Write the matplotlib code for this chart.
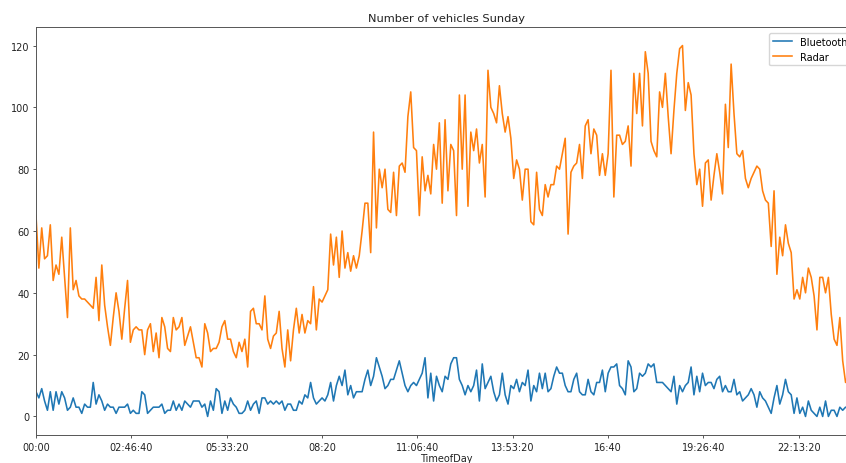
import matplotlib
matplotlib.use("Agg")
import matplotlib.pyplot as plt
from matplotlib.ticker import FuncFormatter, MultipleLocator
import numpy as np

# 5-minute bins over one Sunday
step_s = 300
radar = [65, 48, 61, 51, 52, 62, 44, 49, 46, 58, 45, 32, 61, 41, 44, 39, 38, 38, 37, 36,
         35, 45, 31, 49, 36, 29, 23, 32, 40, 34, 25, 35, 44, 24, 28, 29, 28, 28, 20, 28,
         30, 21, 27, 19, 32, 29, 22, 21,
         32, 28, 29, 32, 23, 26, 29, 24, 19, 19, 16, 30, 27, 21, 22, 22, 24, 29, 31, 25,
         25, 21, 19, 24, 21, 25, 16, 34, 35, 30, 30, 28, 39, 25, 22, 26, 27, 34, 22, 16,
         28, 18, 28, 35, 27, 33, 27,
         31, 30, 42, 28, 38, 37, 39, 41, 59, 49, 58, 45, 60, 48, 53, 47, 52, 48, 52, 60,
         69, 69, 53, 92, 61, 80, 74, 80, 67, 66, 79, 65, 81, 82, 79, 97, 105, 87, 86, 65,
         84, 73, 78, 72, 88, 80, 95,
         69, 96, 73, 88, 86, 65, 104, 80, 104, 68, 92, 86, 93, 82, 88, 71, 112, 100, 98, 95,
         107, 98, 92, 97, 90, 77, 83, 80, 70, 80, 80, 63, 62, 79, 67, 65, 75, 71, 75, 75,
         81, 80, 85, 90, 59, 79, 81,
         82, 88, 77, 94, 96, 85, 93, 91, 78, 85, 78, 85, 112, 71, 91, 91, 88, 89, 94, 81,
         111, 98, 111, 94, 118, 111, 89, 86, 84, 105, 100, 111, 97, 85, 99, 111, 119, 120, 99, 108,
         104, 85, 75, 80, 68, 82, 83, 70,
         78, 85, 79, 72, 101, 87, 114, 98, 85, 84, 86, 77, 74, 77, 79, 81, 80, 73, 70, 69,
         55, 73, 46, 58, 52, 62, 56, 53, 38, 41, 38, 45, 40, 48, 45, 39, 28, 45, 45, 40,
         45, 33, 25, 23, 32, 18, 11, 14, 12, 9, 11]
bluetooth = [8, 6, 9, 5, 2, 8, 2, 8, 4, 8, 6, 2, 3, 6, 3, 3, 1, 4, 3, 3,
             11, 4, 7, 5, 2, 4, 3, 3, 1, 3, 3, 3, 4, 1, 2, 1, 1, 8, 7, 1,
             2, 3, 3, 3, 4, 1, 2, 2, 5, 2, 4, 2, 5, 4, 3, 5, 5, 5, 3, 4,
             0, 5, 2, 9, 8, 1, 5, 2, 6, 4, 3, 1, 1, 2, 5, 2, 4, 5, 1, 6,
             6, 4, 5, 4, 5,
             4, 5, 2, 4, 4, 2, 2, 5, 4, 7, 6, 11, 6, 4, 5, 6, 5, 7, 11, 5,
             10, 13, 10, 15, 7, 10, 6, 8, 8, 8, 12, 15, 10, 13, 19, 16, 13, 9, 10, 12,
             12, 15, 18, 14, 10, 8, 10, 11, 10, 12, 14, 19, 6, 14, 5, 13, 10, 8, 13, 12,
             17, 19, 19, 12, 10, 7, 10, 8, 10, 15, 5, 17, 9, 11, 13, 8, 5, 7, 14, 7,
             4, 10, 9, 12, 8, 11, 10, 15, 5, 10, 8, 14, 9, 14, 8, 9, 13, 16,
             14, 14, 10, 8, 8, 12, 14, 8, 7, 7, 12, 8, 7, 11, 11, 15, 8, 14, 16, 16,
             17, 10, 9, 7, 18, 16, 8, 9, 14, 13, 14, 17, 16, 17, 11, 11, 11, 10, 9, 8,
             13, 4, 10, 8, 10, 11, 16, 7, 13, 8, 14, 10, 11, 11, 9, 12, 13, 8, 10, 8,
             8, 12, 7, 8, 5, 6, 7, 9, 7, 3, 8, 6, 5, 3, 1, 6, 10, 4, 7, 12,
             8, 7, 1, 6, 1, 3, 0, 5, 2, 1, 0, 3, 0, 5, 0, 2, 2, 0, 3, 2,
             3, 3, 2, 3, 3]
t = np.arange(len(radar)) * step_s   # seconds since midnight

def hms(x, pos=None):
    x = int(round(x)); h, r = divmod(x, 3600); m, s = divmod(r, 60)
    return f"{h:02d}:{m:02d}" if s == 0 else f"{h:02d}:{m:02d}:{s:02d}"

plt.rcParams.update({"font.size": 7, "axes.linewidth": 0.7, "axes.edgecolor": "#555555",
                     "xtick.color": "#555555", "ytick.color": "#555555",
                     "xtick.labelcolor": "#222222", "ytick.labelcolor": "#222222",
                     "xtick.major.size": 2.2, "ytick.major.size": 2.2,
                     "xtick.major.width": 0.7, "ytick.major.width": 0.7,
                     "xtick.major.pad": 2.5, "ytick.major.pad": 2.5})
fig = plt.figure(figsize=(8.46, 4.64), dpi=100)
# axes run a little past the right edge, as in the cropped original
ax = fig.add_axes([36 / 846, 1 - 436 / 464, 821 / 846, 408 / 464])
ax.plot(t, bluetooth, color="C0", lw=1.15, label="Bluetooth")
ax.plot(t, radar, color="C1", lw=1.15, label="Radar")
ax.set_xlim(t[0], t[-1])
ax.margins(y=0.05)
ax.xaxis.set_major_locator(MultipleLocator(10000))
ax.xaxis.set_major_formatter(FuncFormatter(hms))
ax.set_yticks([0, 20, 40, 60, 80, 100, 120])
ax.set_title("Number of vehicles Sunday", fontsize=8.2, pad=4, color="#222222")
ax.set_xlabel("TimeofDay", labelpad=1, color="#222222")
ax.legend(loc="upper right", fontsize=7, borderaxespad=0.6, handlelength=2.0)
fig.savefig("out.png", dpi=100)
